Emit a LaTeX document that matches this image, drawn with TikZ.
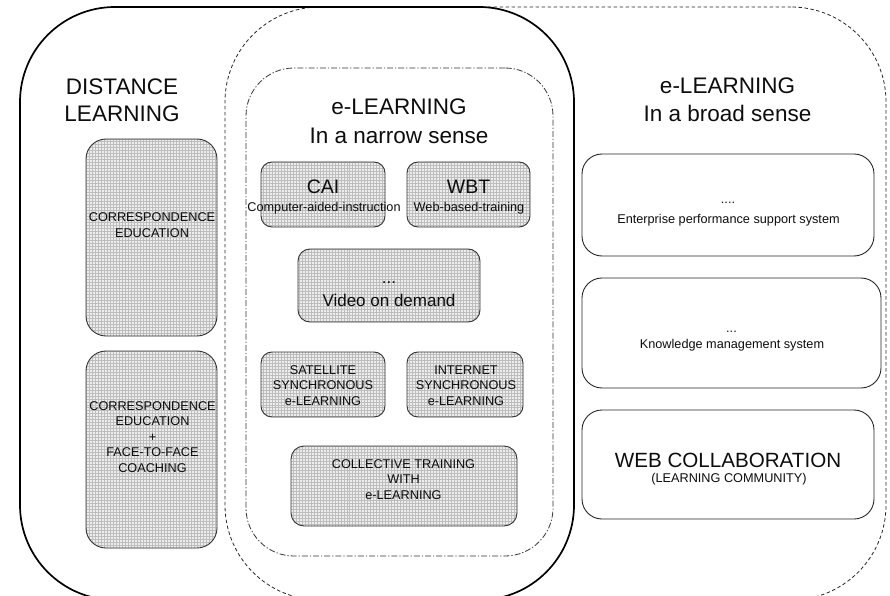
\documentclass[tikz,border=0pt]{standalone}
\usepackage{fontspec}
\setmainfont{Liberation Sans}
\usetikzlibrary{patterns}

\newcommand\szTitle{\fontsize{22.5bp}{27bp}\selectfont}
\newcommand\szMid{\fontsize{19.5bp}{23bp}\selectfont}
\newcommand\szWeb{\fontsize{20.6bp}{24bp}\selectfont}
\newcommand\szVid{\fontsize{17bp}{20bp}\selectfont}
\newcommand\szSmall{\fontsize{12.7bp}{15.5bp}\selectfont}

\tikzset{
  frame/.style={inner sep=0pt, outer sep=0pt},
  distframe/.style={frame, draw=black, line width=1.7bp, rounded corners=95bp},
  broadframe/.style={frame, draw=black!85, line width=0.8bp, rounded corners=95bp,
    dash pattern=on 3.5bp off 2.5bp},
  narrowframe/.style={frame, draw=black!80, line width=0.8bp, rounded corners=48bp,
    dash pattern=on 6bp off 2bp on 1.2bp off 2bp},
  hatched/.style={frame, draw=black!80, line width=0.9bp,
    preaction={fill=black!7}, pattern=grid, pattern color=black!26},
  plainbox/.style={frame, draw=black!85, line width=0.9bp, rounded corners=20bp},
  lbl/.style={inner sep=0pt, anchor=base, text=black!95},
}

\begin{document}
\begin{tikzpicture}[x=1bp, y=-1bp]
\useasboundingbox (0,0) rectangle (890,596);
\begin{scope}
\clip (0,0) rectangle (890,596);

% the three overlapping areas
\node[broadframe, minimum width=661bp, minimum height=593bp] (broad) at (555.5,303.5) {};
\node[distframe, minimum width=554bp, minimum height=593bp] (distance) at (297,303.5) {};
\node[narrowframe, minimum width=307bp, minimum height=488bp] (narrow) at (399.5,312) {};

% distance learning forms
\node[hatched, rounded corners=20bp, minimum width=131bp, minimum height=197bp] (corr) at (151.5,237.5) {};
\node[hatched, rounded corners=20bp, minimum width=131bp, minimum height=197bp] (coach) at (151.5,449.5) {};

% narrow-sense e-learning forms
\node[hatched, rounded corners=11bp, minimum width=124bp, minimum height=65bp] (cai) at (323,194.5) {};
\node[hatched, rounded corners=11bp, minimum width=123bp, minimum height=65bp] (wbt) at (468.5,194.5) {};
\node[hatched, rounded corners=12bp, minimum width=182bp, minimum height=73bp] (vod) at (389,285.5) {};
\node[hatched, rounded corners=11bp, minimum width=124bp, minimum height=65bp] (sat) at (323,384.5) {};
\node[hatched, rounded corners=11bp, minimum width=116bp, minimum height=65bp] (inet) at (465,384.5) {};
\node[hatched, rounded corners=13bp, minimum width=226bp, minimum height=80bp] (coll) at (404,486) {};

% broad-sense e-learning forms
\node[plainbox, minimum width=292bp, minimum height=102bp] (epss) at (728,205) {};
\node[plainbox, minimum width=299bp, minimum height=110bp] (kms) at (731.5,333) {};
\node[plainbox, minimum width=292bp, minimum height=109bp] (webc) at (728,464.5) {};
\end{scope}

% headings
\node[lbl, font=\szTitle] (distA) at (122,94.3) {DISTANCE};
\node[lbl, font=\szTitle] (distB) at (122,121.7) {LEARNING};
\node[lbl, font=\szTitle] (broadA) at (727.5,94) {e-LEARNING};
\node[lbl, font=\szTitle] (broadB) at (727.5,121.7) {In a broad sense};
\node[lbl, font=\szTitle] (narrowA) at (399,115) {e-LEARNING};
\node[lbl, font=\szTitle] (narrowB) at (399,143.3) {In a narrow sense};

% labels inside the distance learning boxes
\node[lbl, font=\szSmall] (corrA) at (152,221.7) {CORRESPONDENCE};
\node[lbl, font=\szSmall] (corrB) at (152,237.3) {EDUCATION};
\node[lbl, font=\szSmall] (coachA) at (152.5,410) {CORRESPONDENCE};
\node[lbl, font=\szSmall] (coachB) at (152.5,425.5) {EDUCATION};
\node[lbl, font=\szSmall] (coachC) at (152.5,441) {+};
\node[lbl, font=\szSmall] (coachD) at (152.5,456.5) {FACE-TO-FACE};
\node[lbl, font=\szSmall] (coachE) at (152.5,472) {COACHING};

% labels inside the narrow-sense boxes
\node[lbl, font=\szMid] (caiA) at (323,193.3) {CAI};
\node[lbl, font=\szSmall] (caiB) at (324,211.7) {Computer-aided-instruction};
\node[lbl, font=\szMid] (wbtA) at (468.5,193.3) {WBT};
\node[lbl, font=\szSmall] (wbtB) at (469,211.7) {Web-based-training};
\node[lbl, font=\szVid] (vodA) at (389,283) {...};
\node[lbl, font=\szVid] (vodB) at (389,306) {Video on demand};
\node[lbl, font=\szSmall] (satA) at (323,374) {SATELLITE};
\node[lbl, font=\szSmall] (satB) at (323,389.5) {SYNCHRONOUS};
\node[lbl, font=\szSmall] (satC) at (323,405) {e-LEARNING};
\node[lbl, font=\szSmall] (inetA) at (466,374) {INTERNET};
\node[lbl, font=\szSmall] (inetB) at (466,389.5) {SYNCHRONOUS};
\node[lbl, font=\szSmall] (inetC) at (466,405) {e-LEARNING};
\node[lbl, font=\szSmall] (collA) at (403.5,468.3) {COLLECTIVE TRAINING};
\node[lbl, font=\szSmall] (collB) at (403.5,483.5) {WITH};
\node[lbl, font=\szSmall] (collC) at (403.5,499.3) {e-LEARNING};

% labels inside the broad-sense boxes
\node[lbl, font=\szSmall] (epssA) at (728,204) {....};
\node[lbl, font=\szSmall] (epssB) at (728.5,223.3) {Enterprise performance support system};
\node[lbl, font=\szSmall] (kmsA) at (731.5,332.7) {...};
\node[lbl, font=\szSmall] (kmsB) at (732,348.3) {Knowledge management system};
\node[lbl, font=\szWeb] (webcA) at (728,467) {WEB COLLABORATION};
\node[lbl, font=\szSmall] (webcB) at (729,482) {(LEARNING COMMUNITY)};
\end{tikzpicture}
\end{document}
